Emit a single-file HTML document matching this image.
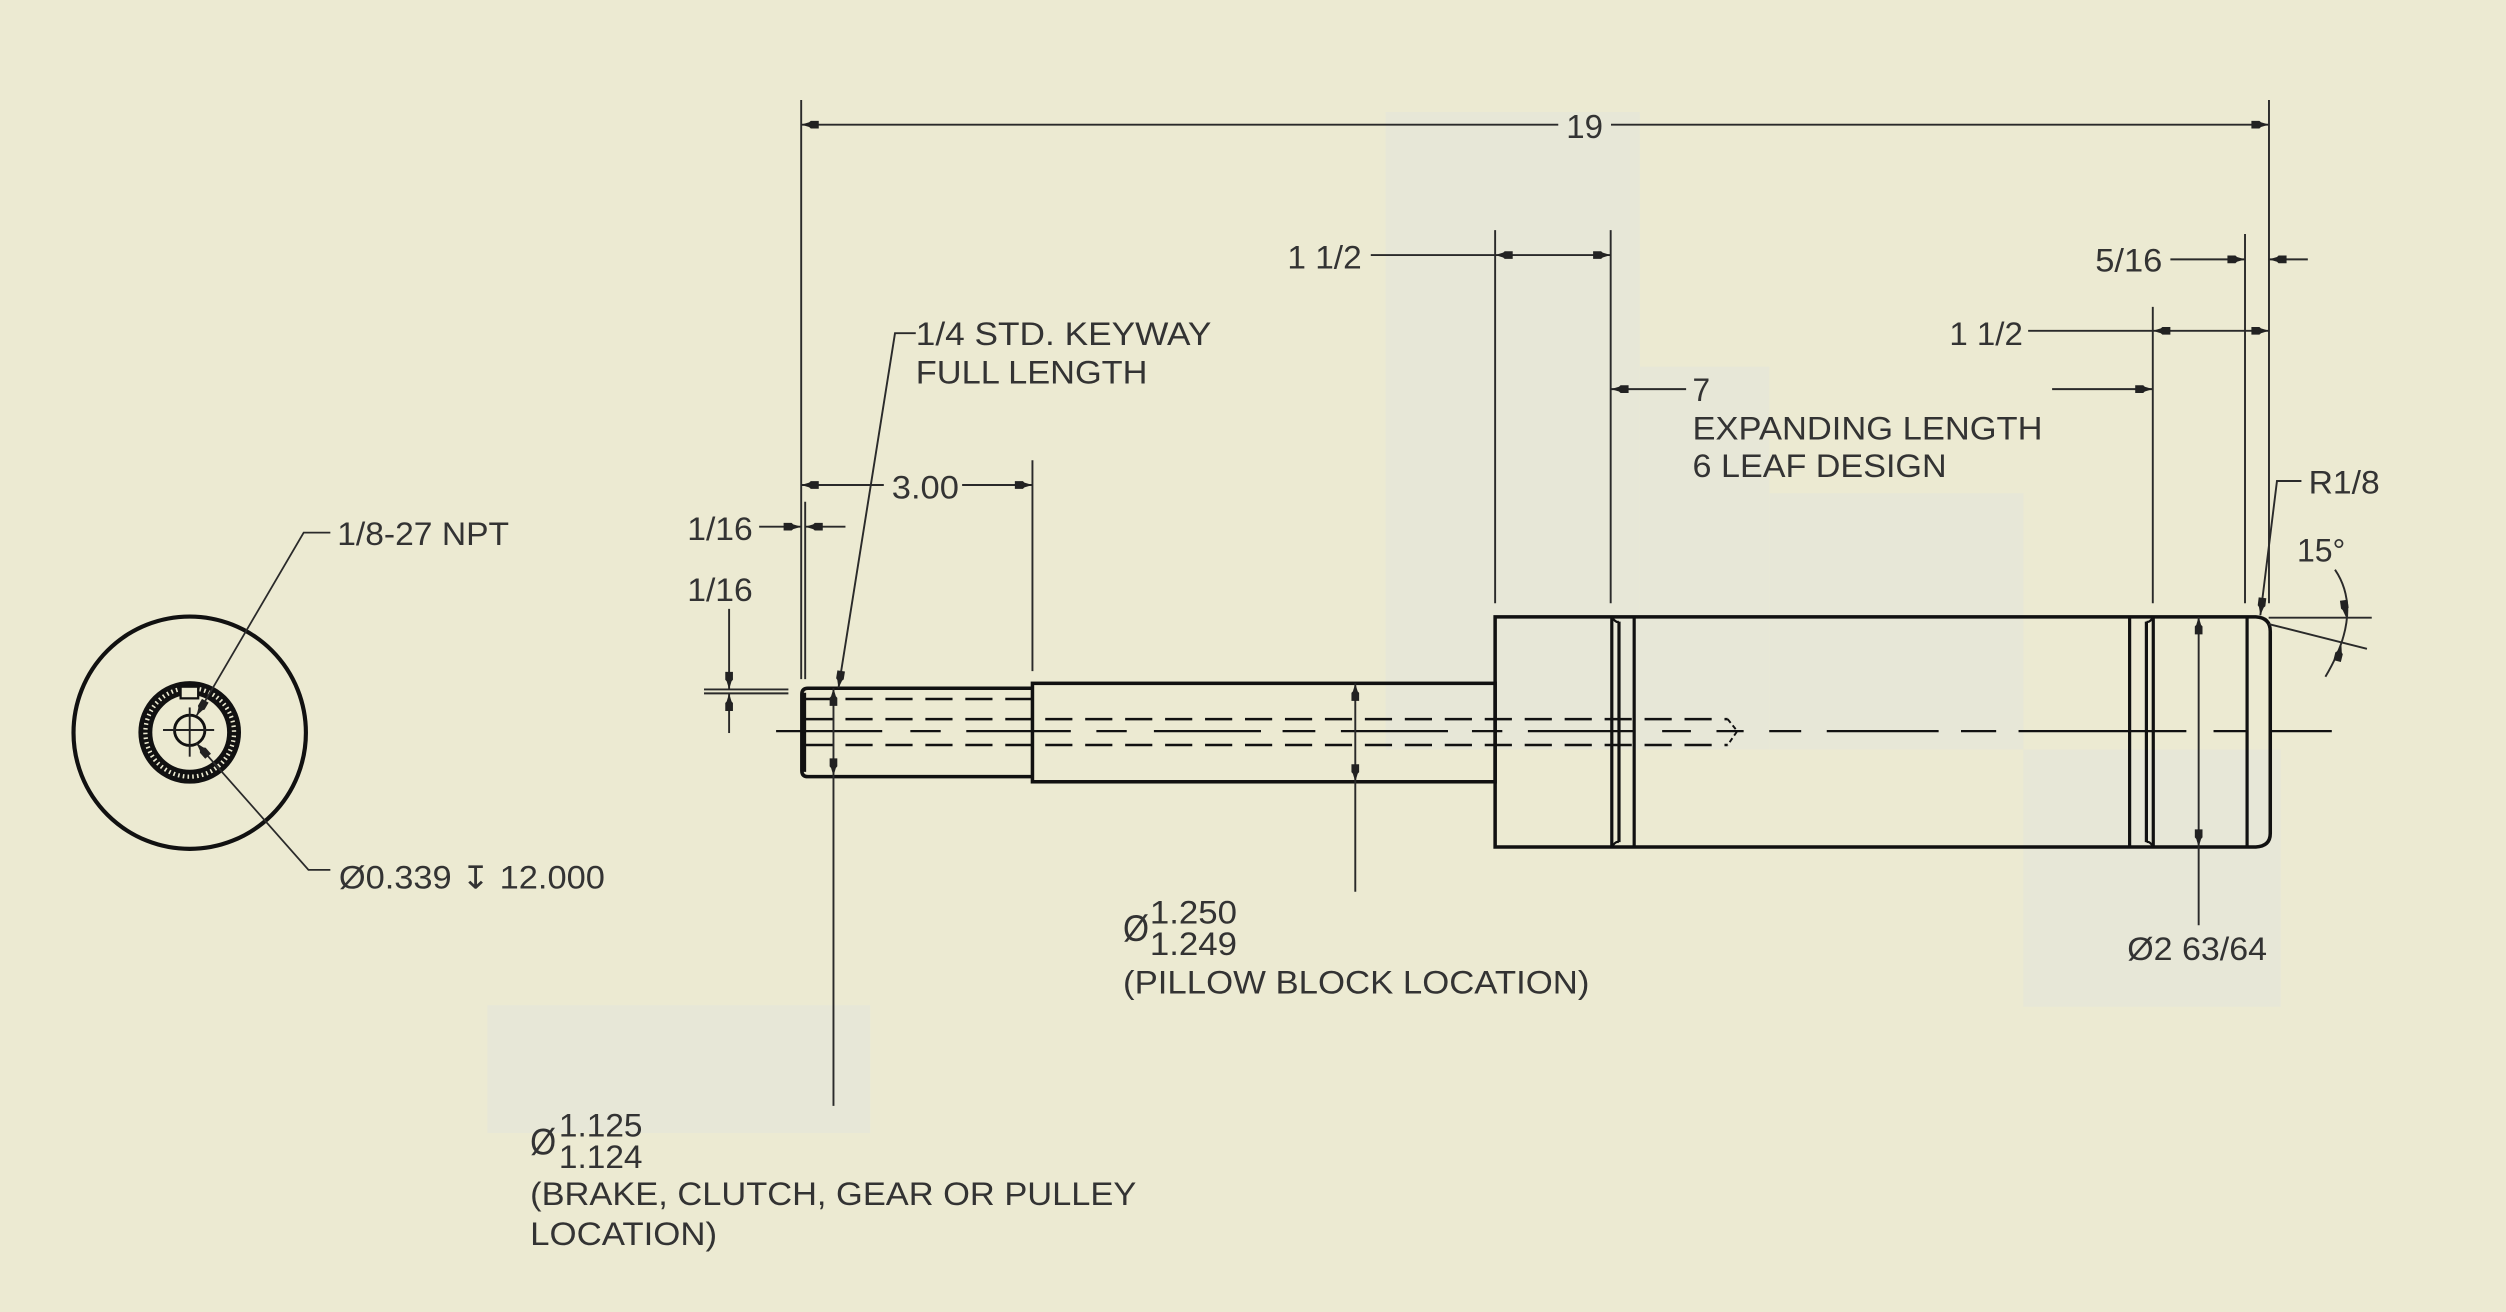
<!DOCTYPE html>
<html>
<head>
<meta charset="utf-8">
<style>
  html,body{margin:0;padding:0;background:#ECEAD2;}
  svg{display:block;}
  text{font-family:"Liberation Sans","DejaVu Sans",sans-serif;fill:#333333;}
</style>
</head>
<body>
<svg width="2506" height="1312" viewBox="0 0 1568 821" preserveAspectRatio="none" xmlns="http://www.w3.org/2000/svg">
  <!-- background -->
  <rect x="0" y="0" width="1568" height="821" fill="#ECEAD2"/>
  <!-- lighter patches -->
  <g fill="#E7E7D7">
    <rect x="867" y="70" width="159" height="399"/>
    <rect x="1026" y="229.5" width="81" height="239.5"/>
    <rect x="1107" y="308.6" width="159" height="160.4"/>
    <rect x="1266" y="469" width="161" height="161"/>
    <rect x="305" y="629" width="239.5" height="80"/>
  </g>

  <!-- ================= LEFT END VIEW ================= -->
  <g fill="none" stroke="#111">
    <circle cx="118.7" cy="458.5" r="72.7" stroke-width="2.6"/>
    <circle cx="118.7" cy="458.3" r="30.6" stroke-width="3"/>
    <circle cx="118.7" cy="458.3" r="24.9" stroke-width="3"/>
    <circle cx="118.7" cy="458.3" r="27.8" stroke-width="3.4" stroke-dasharray="2 1"/>
    <circle cx="118.7" cy="457" r="9.5" stroke-width="1.8"/>
  </g>
  <rect x="113" y="429.7" width="11" height="7.3" fill="#ECEAD2" stroke="#111" stroke-width="1.4"/>
  <g stroke="#222" stroke-width="1.2">
    <line x1="102" y1="456.8" x2="134" y2="456.8"/>
    <line x1="118.7" y1="442.7" x2="118.7" y2="473.5"/>
  </g>
  <!-- leaders left view -->
  <g fill="none" stroke="#2a2a2a" stroke-width="1.1">
    <polyline points="206.7,333.3 190,333.3 122.9,448"/>
    <polyline points="206.7,544.3 193,544.3 122.9,465"/>
  </g>

  <!-- ================= SHAFT ================= -->
  <path d="M646 430.7 L505.5 430.7 Q501.7 430.7 501.7 434.5 L501.7 482.2 Q501.7 486 505.5 486 L646 486" fill="none" stroke="#111" stroke-width="2.2"/>
  <line x1="503.4" y1="433.5" x2="503.4" y2="483" stroke="#111" stroke-width="2"/>
  <rect x="646" y="427.6" width="289.5" height="61.6" fill="none" stroke="#111" stroke-width="2.2"/>
  <path d="M935.5 386 L1411.5 386 Q1420.5 386.5 1420.5 395 L1420.5 521.5 Q1420.5 529.5 1411.5 530 L935.5 530 Z" fill="none" stroke="#111" stroke-width="2.2"/>
  <g stroke="#111" stroke-width="2">
    <line x1="1008.5" y1="386" x2="1008.5" y2="530"/>
    <line x1="1013" y1="389" x2="1013" y2="527"/>
    <line x1="1022.5" y1="386" x2="1022.5" y2="530"/>
    <line x1="1332.5" y1="386" x2="1332.5" y2="530"/>
    <line x1="1343" y1="389" x2="1343" y2="527"/>
    <line x1="1347.3" y1="386" x2="1347.3" y2="530"/>
    <line x1="1406" y1="386" x2="1406" y2="530"/>
  </g>
  <g fill="none" stroke="#111" stroke-width="1.4">
    <path d="M1008.5 386 Q1011 390 1013 389"/>
    <path d="M1008.5 530 Q1011 526 1013 527"/>
    <path d="M1343 389 Q1345 390 1347.3 386"/>
    <path d="M1343 527 Q1345 526 1347.3 530"/>
  </g>

  <!-- hidden lines -->
  <g stroke="#111" stroke-width="1.6" stroke-dasharray="17 8" fill="none">
    <line x1="504" y1="437.4" x2="646" y2="437.4"/>
    <line x1="504" y1="450" x2="1081" y2="450"/>
    <line x1="504" y1="466.2" x2="1081" y2="466.2"/>
  </g>
  <path d="M1081 450 L1087 457.5 L1081 466.2" fill="none" stroke="#111" stroke-width="1.2" stroke-dasharray="3 2"/>

  <!-- center line -->
  <g stroke="#111" stroke-width="1.4">
    <line x1="485.6" y1="457.5" x2="552" y2="457.5"/>
    <line x1="569.6" y1="457.5" x2="588.6" y2="457.5"/>
    <line x1="604.6" y1="457.5" x2="670" y2="457.5"/>
    <line x1="686" y1="457.5" x2="705" y2="457.5"/>
    <line x1="722" y1="457.5" x2="789" y2="457.5"/>
    <line x1="802.5" y1="457.5" x2="823" y2="457.5"/>
    <line x1="839" y1="457.5" x2="906" y2="457.5"/>
    <line x1="921" y1="457.5" x2="940" y2="457.5"/>
    <line x1="956" y1="457.5" x2="1023" y2="457.5"/>
    <line x1="1040" y1="457.5" x2="1058" y2="457.5"/>
    <line x1="1074" y1="457.5" x2="1091" y2="457.5"/>
    <line x1="1107" y1="457.5" x2="1127" y2="457.5"/>
    <line x1="1143" y1="457.5" x2="1213" y2="457.5"/>
    <line x1="1227" y1="457.5" x2="1249" y2="457.5"/>
    <line x1="1263" y1="457.5" x2="1368" y2="457.5"/>
    <line x1="1385" y1="457.5" x2="1405" y2="457.5"/>
    <line x1="1421" y1="457.5" x2="1459" y2="457.5"/>
  </g>

  <!-- ================= EXTENSION & DIMENSION LINES ================= -->
  <g stroke="#2a2a2a" stroke-width="1.2" fill="none">
    <line x1="501.3" y1="62.6" x2="501.3" y2="425"/>
    <line x1="503.8" y1="314" x2="503.8" y2="425"/>
    <line x1="646" y1="288" x2="646" y2="420"/>
    <line x1="935.5" y1="144" x2="935.5" y2="377.5"/>
    <line x1="1007.8" y1="144" x2="1007.8" y2="377.5"/>
    <line x1="1347" y1="192" x2="1347" y2="377.5"/>
    <line x1="1404.7" y1="146.4" x2="1404.7" y2="377.5"/>
    <line x1="1419.7" y1="62.6" x2="1419.7" y2="377.5"/>

    <line x1="501.3" y1="78" x2="975" y2="78"/>
    <line x1="1008" y1="78" x2="1419.7" y2="78"/>
    <line x1="857.7" y1="159.6" x2="1007.8" y2="159.6"/>
    <line x1="1008" y1="243.5" x2="1055" y2="243.5"/>
    <line x1="1284" y1="243.5" x2="1347" y2="243.5"/>
    <line x1="1358" y1="162.3" x2="1404.7" y2="162.3"/>
    <line x1="1419.7" y1="162.3" x2="1444" y2="162.3"/>
    <line x1="1269" y1="207" x2="1419.7" y2="207"/>
    <line x1="501.3" y1="303.5" x2="553" y2="303.5"/>
    <line x1="602" y1="303.5" x2="646" y2="303.5"/>
    <line x1="475" y1="329.6" x2="501.3" y2="329.6"/>
    <line x1="503.8" y1="329.6" x2="529" y2="329.6"/>
    <line x1="456.2" y1="381" x2="456.2" y2="431.4"/>
    <line x1="456.2" y1="433.9" x2="456.2" y2="458.7"/>
    <line x1="440.5" y1="431.4" x2="493.3" y2="431.4"/>
    <line x1="440.5" y1="433.9" x2="493.3" y2="433.9"/>
    <line x1="521.5" y1="430.7" x2="521.5" y2="692"/>
    <line x1="848" y1="427.6" x2="848" y2="558"/>
    <line x1="1375.7" y1="386" x2="1375.7" y2="579"/>
    <polyline points="573,208.5 560,208.5 524.6,430.7"/>
    <polyline points="1440,301 1424.7,301 1414.3,385"/>
    <line x1="1419.5" y1="386.5" x2="1484" y2="386.5"/>
    <line x1="1419.5" y1="390.5" x2="1481" y2="406"/>
    <path d="M1461 356.5 Q1479 383 1455 423.5"/>
  </g>

  <!-- arrowheads -->
  <g fill="#222">
    <path d="M0 0 L5 -1.5 L6 -2.4 L11 -2.4 L11 2.4 L6 2.4 L5 1.5Z" transform="translate(501.3,78)"/>
    <path d="M0 0 L5 -1.5 L6 -2.4 L11 -2.4 L11 2.4 L6 2.4 L5 1.5Z" transform="translate(1419.7,78) rotate(180)"/>
    <path d="M0 0 L5 -1.5 L6 -2.4 L11 -2.4 L11 2.4 L6 2.4 L5 1.5Z" transform="translate(935.5,159.6)"/>
    <path d="M0 0 L5 -1.5 L6 -2.4 L11 -2.4 L11 2.4 L6 2.4 L5 1.5Z" transform="translate(1007.8,159.6) rotate(180)"/>
    <path d="M0 0 L5 -1.5 L6 -2.4 L11 -2.4 L11 2.4 L6 2.4 L5 1.5Z" transform="translate(1008,243.5)"/>
    <path d="M0 0 L5 -1.5 L6 -2.4 L11 -2.4 L11 2.4 L6 2.4 L5 1.5Z" transform="translate(1347,243.5) rotate(180)"/>
    <path d="M0 0 L5 -1.5 L6 -2.4 L11 -2.4 L11 2.4 L6 2.4 L5 1.5Z" transform="translate(1404.7,162.3) rotate(180)"/>
    <path d="M0 0 L5 -1.5 L6 -2.4 L11 -2.4 L11 2.4 L6 2.4 L5 1.5Z" transform="translate(1419.7,162.3)"/>
    <path d="M0 0 L5 -1.5 L6 -2.4 L11 -2.4 L11 2.4 L6 2.4 L5 1.5Z" transform="translate(1347,207)"/>
    <path d="M0 0 L5 -1.5 L6 -2.4 L11 -2.4 L11 2.4 L6 2.4 L5 1.5Z" transform="translate(1419.7,207) rotate(180)"/>
    <path d="M0 0 L5 -1.5 L6 -2.4 L11 -2.4 L11 2.4 L6 2.4 L5 1.5Z" transform="translate(501.3,303.5)"/>
    <path d="M0 0 L5 -1.5 L6 -2.4 L11 -2.4 L11 2.4 L6 2.4 L5 1.5Z" transform="translate(646,303.5) rotate(180)"/>
    <path d="M0 0 L5 -1.5 L6 -2.4 L11 -2.4 L11 2.4 L6 2.4 L5 1.5Z" transform="translate(501.3,329.6) rotate(180)"/>
    <path d="M0 0 L5 -1.5 L6 -2.4 L11 -2.4 L11 2.4 L6 2.4 L5 1.5Z" transform="translate(503.8,329.6)"/>
    <path d="M0 0 L5 -1.5 L6 -2.4 L11 -2.4 L11 2.4 L6 2.4 L5 1.5Z" transform="translate(456.2,431.4) rotate(-90)"/>
    <path d="M0 0 L5 -1.5 L6 -2.4 L11 -2.4 L11 2.4 L6 2.4 L5 1.5Z" transform="translate(456.2,433.9) rotate(90)"/>
    <path d="M0 0 L5 -1.5 L6 -2.4 L11 -2.4 L11 2.4 L6 2.4 L5 1.5Z" transform="translate(521.5,430.7) rotate(90)"/>
    <path d="M0 0 L5 -1.5 L6 -2.4 L11 -2.4 L11 2.4 L6 2.4 L5 1.5Z" transform="translate(521.5,485.6) rotate(-90)"/>
    <path d="M0 0 L5 -1.5 L6 -2.4 L11 -2.4 L11 2.4 L6 2.4 L5 1.5Z" transform="translate(848,427.6) rotate(90)"/>
    <path d="M0 0 L5 -1.5 L6 -2.4 L11 -2.4 L11 2.4 L6 2.4 L5 1.5Z" transform="translate(848,489.2) rotate(-90)"/>
    <path d="M0 0 L5 -1.5 L6 -2.4 L11 -2.4 L11 2.4 L6 2.4 L5 1.5Z" transform="translate(1375.7,386) rotate(90)"/>
    <path d="M0 0 L5 -1.5 L6 -2.4 L11 -2.4 L11 2.4 L6 2.4 L5 1.5Z" transform="translate(1375.7,530) rotate(-90)"/>
    <path d="M0 0 L5 -1.5 L6 -2.4 L11 -2.4 L11 2.4 L6 2.4 L5 1.5Z" transform="translate(524.6,430.7) rotate(-81)"/>
    <path d="M0 0 L5 -1.5 L6 -2.4 L11 -2.4 L11 2.4 L6 2.4 L5 1.5Z" transform="translate(122.9,448) rotate(-59.7)"/>
    <path d="M0 0 L5 -1.5 L6 -2.4 L11 -2.4 L11 2.4 L6 2.4 L5 1.5Z" transform="translate(122.9,465) rotate(48.4)"/>
    <path d="M0 0 L5 -1.5 L6 -2.4 L11 -2.4 L11 2.4 L6 2.4 L5 1.5Z" transform="translate(1414.3,385) rotate(-83)"/>
    <path d="M0 0 L5 -1.5 L6 -2.4 L11 -2.4 L11 2.4 L6 2.4 L5 1.5Z" transform="translate(1468,386.5) rotate(-98)"/>
    <path d="M0 0 L5 -1.5 L6 -2.4 L11 -2.4 L11 2.4 L6 2.4 L5 1.5Z" transform="translate(1465,403) rotate(104)"/>
  </g>

  <!-- ================= TEXT ================= -->
  <g font-size="20.5">
    <text x="980" y="86.5" textLength="23" lengthAdjust="spacingAndGlyphs" font-size="21">19</text>
    <text x="805.5" y="168" textLength="46.5" lengthAdjust="spacingAndGlyphs">1 1/2</text>
    <text x="1219.7" y="216" textLength="46" lengthAdjust="spacingAndGlyphs">1 1/2</text>
    <text x="1311" y="170" textLength="42" lengthAdjust="spacingAndGlyphs">5/16</text>
    <text x="1059" y="251" textLength="11" lengthAdjust="spacingAndGlyphs">7</text>
    <text x="1059" y="275" textLength="219" lengthAdjust="spacingAndGlyphs" font-size="20">EXPANDING LENGTH</text>
    <text x="1059" y="298.5" textLength="159" lengthAdjust="spacingAndGlyphs" font-size="20">6 LEAF DESIGN</text>
    <text x="1444.5" y="308.7" textLength="44.5" lengthAdjust="spacingAndGlyphs">R1/8</text>
    <text x="1437.2" y="351.5" textLength="30.3" lengthAdjust="spacingAndGlyphs">15°</text>
    <text x="430" y="338" textLength="41" lengthAdjust="spacingAndGlyphs">1/16</text>
    <text x="430" y="376" textLength="41" lengthAdjust="spacingAndGlyphs">1/16</text>
    <text x="558" y="311.8" textLength="42" lengthAdjust="spacingAndGlyphs">3.00</text>
    <text x="573" y="216" textLength="185" lengthAdjust="spacingAndGlyphs" font-size="20">1/4 STD. KEYWAY</text>
    <text x="573" y="240" textLength="145" lengthAdjust="spacingAndGlyphs" font-size="20">FULL LENGTH</text>
    <text x="211" y="341" textLength="107.5" lengthAdjust="spacingAndGlyphs" font-size="20">1/8-27 NPT</text>
    <text x="212" y="556" textLength="166.5" lengthAdjust="spacingAndGlyphs" font-size="20">Ø0.339 ↧ 12.000</text>

    <text x="702.7" y="589" textLength="16.3" lengthAdjust="spacingAndGlyphs" font-size="23">Ø</text>
    <text x="719.5" y="577.8" textLength="54.5" lengthAdjust="spacingAndGlyphs">1.250</text>
    <text x="719.5" y="597.6" textLength="54.5" lengthAdjust="spacingAndGlyphs">1.249</text>
    <text x="702.7" y="621.6" textLength="291.8" lengthAdjust="spacingAndGlyphs" font-size="20">(PILLOW BLOCK LOCATION)</text>

    <text x="331.7" y="722.5" textLength="16.3" lengthAdjust="spacingAndGlyphs" font-size="23">Ø</text>
    <text x="349.7" y="711.3" textLength="52.3" lengthAdjust="spacingAndGlyphs">1.125</text>
    <text x="349.7" y="731" textLength="52.3" lengthAdjust="spacingAndGlyphs">1.124</text>
    <text x="331.7" y="754" textLength="379.3" lengthAdjust="spacingAndGlyphs" font-size="20">(BRAKE, CLUTCH, GEAR OR PULLEY</text>
    <text x="331.7" y="779" textLength="117" lengthAdjust="spacingAndGlyphs" font-size="20">LOCATION)</text>

    <text x="1331" y="600.7" textLength="87.5" lengthAdjust="spacingAndGlyphs" font-size="20">Ø2 63/64</text>
  </g>
</svg>
</body>
</html>
